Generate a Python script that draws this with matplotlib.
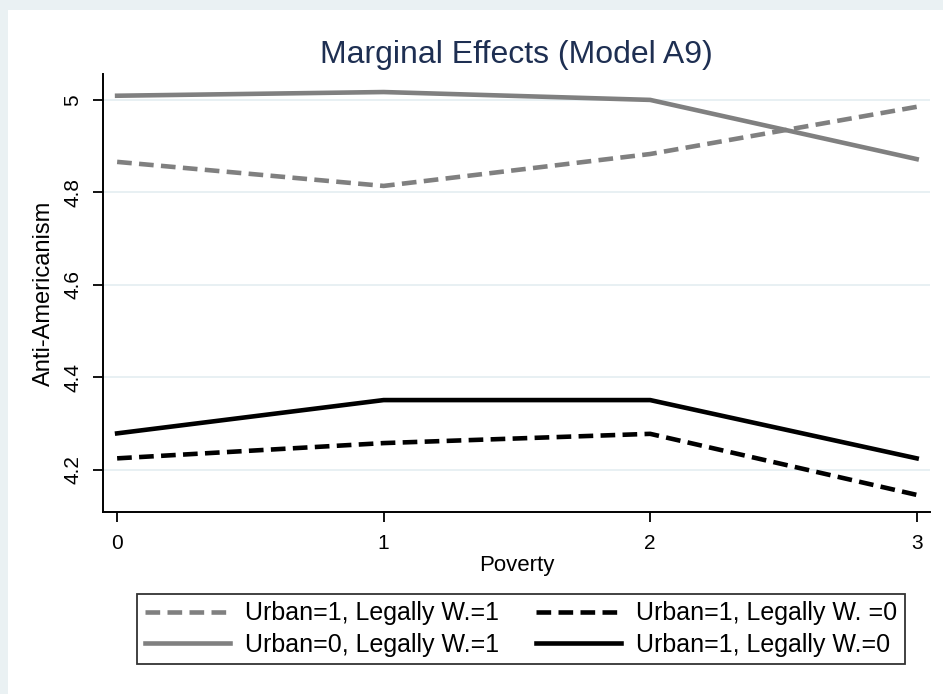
import matplotlib.pyplot as plt
from matplotlib.patches import Rectangle

plt.rcParams['font.family'] = ['Liberation Sans', 'DejaVu Sans']

poverty = [0, 1, 2, 3]
urban1_lw1 = [4.866, 4.814, 4.883, 4.985]
urban0_lw1 = [5.009, 5.017, 5.000, 4.872]
urban1_lw0_dash = [4.225, 4.258, 4.278, 4.146]
urban1_lw0 = [4.279, 4.351, 4.351, 4.225]

yticks = [4.2, 4.4, 4.6, 4.8, 5]
ytick_labels = ['4.2', '4.4', '4.6', '4.8', '5']

fig = plt.figure(figsize=(9.43, 6.94), dpi=100, facecolor='#eaf1f3')
# white graph region inside the light frame
fig.patches.append(Rectangle((8 / 943, 0), 1, 1 - 10 / 694, transform=fig.transFigure,
                             facecolor='white', edgecolor='none', zorder=-10))

ax = fig.add_axes([103 / 943, 1 - 512 / 694, (930 - 103) / 943, (512 - 74) / 694])
ax.set_facecolor('white')

lw = 3.3
dash = (3.2, 1.6)
ax.plot(poverty, urban1_lw1, color='#808080', lw=lw, dashes=dash,
        label='Urban=1, Legally W.=1')
ax.plot(poverty, urban0_lw1, color='#808080', lw=lw,
        label='Urban=0, Legally W.=1')
ax.plot(poverty, urban1_lw0_dash, color='black', lw=lw, dashes=dash,
        label='Urban=1, Legally W. =0')
ax.plot(poverty, urban1_lw0, color='black', lw=lw,
        label='Urban=1, Legally W.=0')

ax.set_xlim(-0.053, 3.05)
ax.set_ylim(4.109, 5.056)
ax.set_xticks(poverty)
ax.set_yticks(yticks)
ax.set_yticklabels(ytick_labels, rotation=90, va='center')
ax.tick_params(direction='out', length=7, width=1.3, labelsize=15, colors='black')
ax.tick_params(axis='x', pad=9)
ax.tick_params(axis='y', pad=8)
ax.grid(axis='y', color='#e4eef1', lw=1.2)
ax.set_axisbelow(True)
for side in ['top', 'right']:
    ax.spines[side].set_visible(False)
for side in ['left', 'bottom']:
    ax.spines[side].set_linewidth(1.4)

ax.set_xlabel('Poverty', fontsize=16, labelpad=1)
ax.set_ylabel('Anti-Americanism', fontsize=17, labelpad=6)
ax.set_title('Marginal Effects (Model A9)', fontsize=23, color='#1e2f52', pad=8)

handles, labels = ax.get_legend_handles_labels()
leg = fig.legend(handles, labels,
                 loc='center', bbox_to_anchor=(521 / 943, 1 - 629 / 694), ncol=2,
                 fontsize=18, frameon=True, fancybox=False, edgecolor='black',
                 handlelength=3.4, handletextpad=0.6, columnspacing=1.5,
                 borderpad=0.3, labelspacing=0.3)
leg.get_frame().set_linewidth(1.3)

fig.savefig('out.png', dpi=100, facecolor=fig.get_facecolor())
